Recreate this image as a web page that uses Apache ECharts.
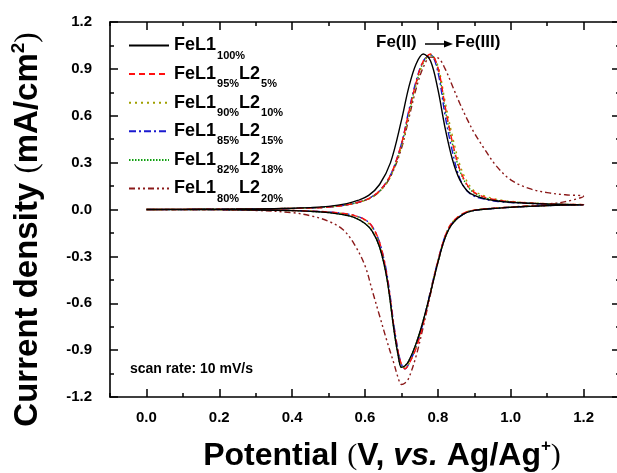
<!DOCTYPE html>
<html>
<head>
<meta charset="utf-8">
<script src="https://cdn.jsdelivr.net/npm/echarts@6/dist/echarts.min.js"></script>
<style>html,body{margin:0;padding:0;background:#fff}#c{width:617px;height:473px}</style>
</head>
<body>
<div id="c"></div>
<script>
// Potential grids (V vs Ag/Ag+)
var forwardE = [0.0, 0.1, 0.2, 0.3, 0.4, 0.45, 0.5, 0.55, 0.58, 0.61, 0.64, 0.67, 0.70, 0.72, 0.74, 0.76, 0.78, 0.80, 0.82, 0.84, 0.86, 0.88, 0.90, 0.93, 0.96, 1.0, 1.05, 1.1, 1.15, 1.2];
var reverseE = [1.15, 1.1, 1.05, 1.0, 0.95, 0.9, 0.87, 0.84, 0.82, 0.80, 0.78, 0.76, 0.74, 0.72, 0.71, 0.70, 0.69, 0.68, 0.66, 0.64, 0.62, 0.60, 0.57, 0.54, 0.5, 0.45, 0.4, 0.3, 0.2, 0.1, 0.0];

// Current density (mA/cm2), forward (anodic) scans
var fwd100 = [0, 0.001, 0.002, 0.004, 0.008, 0.012, 0.02, 0.038, 0.058, 0.09, 0.16, 0.30, 0.57, 0.78, 0.93, 0.995, 0.95, 0.77, 0.52, 0.32, 0.19, 0.12, 0.09, 0.068, 0.056, 0.046, 0.04, 0.035, 0.032, 0.03];
var fwd95 = [0, 0.001, 0.002, 0.004, 0.007, 0.01, 0.016, 0.03, 0.045, 0.07, 0.12, 0.22, 0.42, 0.62, 0.81, 0.95, 0.995, 0.91, 0.66, 0.43, 0.26, 0.16, 0.11, 0.078, 0.062, 0.05, 0.042, 0.036, 0.033, 0.031];
var fwd90 = [0, 0.001, 0.002, 0.004, 0.007, 0.01, 0.016, 0.029, 0.044, 0.068, 0.115, 0.21, 0.40, 0.60, 0.80, 0.94, 0.99, 0.92, 0.69, 0.47, 0.29, 0.18, 0.12, 0.085, 0.066, 0.052, 0.043, 0.037, 0.033, 0.031];
var fwd85 = [0, 0.001, 0.002, 0.004, 0.007, 0.01, 0.016, 0.03, 0.045, 0.07, 0.12, 0.22, 0.42, 0.63, 0.82, 0.95, 0.99, 0.88, 0.60, 0.37, 0.20, 0.12, 0.085, 0.065, 0.053, 0.045, 0.039, 0.034, 0.031, 0.029];
var fwd82 = [0, 0.001, 0.002, 0.004, 0.007, 0.01, 0.016, 0.03, 0.045, 0.069, 0.118, 0.215, 0.41, 0.61, 0.80, 0.94, 0.99, 0.90, 0.64, 0.42, 0.25, 0.155, 0.105, 0.075, 0.06, 0.048, 0.041, 0.036, 0.032, 0.03];
var fwd80 = [0, 0.001, 0.002, 0.004, 0.007, 0.01, 0.016, 0.03, 0.045, 0.068, 0.115, 0.21, 0.39, 0.58, 0.77, 0.91, 0.975, 0.97, 0.90, 0.79, 0.68, 0.58, 0.49, 0.38, 0.28, 0.19, 0.135, 0.108, 0.094, 0.085];

// Current density (mA/cm2), reverse (cathodic) scans
var rev100 = [0.028, 0.025, 0.02, 0.014, 0.006, -0.006, -0.03, -0.09, -0.18, -0.34, -0.53, -0.71, -0.86, -0.97, -1.0, -1.01, -0.92, -0.78, -0.44, -0.24, -0.14, -0.09, -0.05, -0.033, -0.02, -0.012, -0.007, -0.003, -0.001, 0, 0];
var rev95 = [0.029, 0.026, 0.021, 0.015, 0.007, -0.004, -0.025, -0.08, -0.17, -0.33, -0.53, -0.73, -0.89, -0.99, -1.02, -0.99, -0.90, -0.76, -0.42, -0.21, -0.11, -0.065, -0.038, -0.025, -0.016, -0.01, -0.006, -0.003, -0.001, 0, 0];
var rev90 = [0.029, 0.026, 0.021, 0.015, 0.007, -0.004, -0.025, -0.08, -0.17, -0.33, -0.52, -0.72, -0.88, -0.99, -1.01, -0.99, -0.91, -0.77, -0.43, -0.22, -0.12, -0.07, -0.04, -0.026, -0.017, -0.01, -0.006, -0.003, -0.001, 0, 0];
var rev85 = [0.028, 0.025, 0.02, 0.014, 0.006, -0.006, -0.03, -0.085, -0.17, -0.33, -0.52, -0.72, -0.88, -0.99, -1.02, -0.99, -0.89, -0.75, -0.41, -0.21, -0.11, -0.065, -0.038, -0.025, -0.016, -0.01, -0.006, -0.003, -0.001, 0, 0];
var rev82 = [0.028, 0.025, 0.02, 0.014, 0.006, -0.006, -0.03, -0.09, -0.18, -0.34, -0.53, -0.71, -0.86, -0.97, -1.0, -1.01, -0.92, -0.78, -0.44, -0.24, -0.14, -0.09, -0.05, -0.033, -0.02, -0.012, -0.007, -0.003, -0.001, 0, 0];
var rev80 = [0.05, 0.035, 0.025, 0.016, 0.007, -0.004, -0.025, -0.09, -0.18, -0.34, -0.54, -0.75, -0.94, -1.08, -1.11, -1.12, -1.07, -0.99, -0.84, -0.68, -0.52, -0.36, -0.22, -0.13, -0.075, -0.04, -0.02, -0.006, -0.001, 0, 0];

var seriesNames = ['FeL1 100%', 'FeL1 95% L2 5%', 'FeL1 90% L2 10%', 'FeL1 85% L2 15%', 'FeL1 82% L2 18%', 'FeL1 80% L2 20%'];
var legendLabels = ['{m|FeL1}{s|100%}', '{m|FeL1}{s|95%}{m|L2}{s|5%}', '{m|FeL1}{s|90%}{m|L2}{s|10%}', '{m|FeL1}{s|85%}{m|L2}{s|15%}', '{m|FeL1}{s|82%}{m|L2}{s|18%}', '{m|FeL1}{s|80%}{m|L2}{s|20%}'];
var forwardSets = [fwd100, fwd95, fwd90, fwd85, fwd82, fwd80];
var reverseSets = [rev100, rev95, rev90, rev85, rev82, rev80];
var colors = ['#000000', '#ff1010', '#a0a000', '#1a1ad0', '#10a010', '#8b1a1a'];
var dashes = ['solid', [6, 4], [2, 4], [7, 3, 2, 3], [1.5, 1.5], [6, 3, 2, 3, 2, 3]];

var xMajor = [0.0, 0.2, 0.4, 0.6, 0.8, 1.0, 1.2];
var xMinor = [-0.1, 0.1, 0.3, 0.5, 0.7, 0.9, 1.1, 1.3];

var FONT = 'Liberation Sans';

function pairs(e, j) { return e.map(function (v, i) { return [v, j[i]]; }); }

var series = seriesNames.map(function (n, k) {
  return {
    name: n, type: 'line', xAxisIndex: 0, yAxisIndex: 0,
    showSymbol: false, symbol: 'none', smooth: 0.35,
    data: pairs(forwardE, forwardSets[k]).concat(pairs(reverseE, reverseSets[k])),
    lineStyle: { color: colors[k], width: 1.4, type: dashes[k] },
    itemStyle: { color: colors[k] },
    z: 10 - k
  };
});

var axLine = { show: true, onZero: false, lineStyle: { color: '#000', width: 1.6 } };
function xAx(pos, ticks, len, labels, line) {
  return {
    type: 'value', position: pos, min: -0.1, max: 1.3,
    axisLine: line ? axLine : { show: false, onZero: false },
    splitLine: { show: false },
    axisTick: { show: true, inside: true, length: len, customValues: ticks, lineStyle: { color: '#000', width: 1.5 } },
    axisLabel: labels ? { show: true, customValues: xMajor, margin: 13, color: '#000', fontFamily: FONT, fontWeight: 'bold', fontSize: 15, formatter: function (v) { return v.toFixed(1); } } : { show: false }
  };
}
var xAxes = [xAx('bottom', xMajor, 8, true, true), xAx('bottom', xMinor, 4, false, false), xAx('top', xMajor, 8, false, true), xAx('top', xMinor, 4, false, false)];
xAxes[0].name = 'Potential {p|(}V, {i|vs.} Ag/Ag{sup|+}{p|)}';
xAxes[0].nameLocation = 'middle';
xAxes[0].nameGap = 41;
xAxes[0].nameTextStyle = {
  color: '#000', fontFamily: FONT, fontWeight: 'bold', fontSize: 32, padding: [0, 0, 0, 34],
  rich: {
    p: { fontFamily: 'Liberation Serif', fontWeight: 'normal', fontSize: 30, color: '#000' },
    i: { fontFamily: FONT, fontWeight: 'bold', fontStyle: 'italic', fontSize: 32, color: '#000' },
    sup: { fontFamily: FONT, fontWeight: 'bold', fontSize: 17, color: '#000', padding: [0, 0, 20, 0] }
  }
};

function yAx(pos, labels) {
  return {
    type: 'value', position: pos, min: -1.2, max: 1.2, interval: 0.3,
    axisLine: axLine,
    splitLine: { show: false },
    axisTick: { show: true, inside: true, length: 8, lineStyle: { color: '#000', width: 1.5 } },
    minorTick: { show: true, splitNumber: 2, length: 4, lineStyle: { color: '#000', width: 1.5 } },
    minorSplitLine: { show: false },
    axisLabel: labels ? { show: true, margin: 18, color: '#000', fontFamily: FONT, fontWeight: 'bold', fontSize: 15, formatter: function (v) { return v.toFixed(1); } } : { show: false }
  };
}
var yAxes = [yAx('left', true), yAx('right', false)];
yAxes[0].name = 'Current density {p|(}mA/cm{sup|2}{p|)}';
yAxes[0].nameLocation = 'middle';
yAxes[0].nameRotate = 90;
yAxes[0].nameGap = 64;
yAxes[0].nameTextStyle = {
  color: '#000', fontFamily: FONT, fontWeight: 'bold', fontSize: 33, padding: [0, 40, 0, 0],
  rich: {
    p: { fontFamily: 'Liberation Serif', fontWeight: 'normal', fontSize: 31, color: '#000' },
    sup: { fontFamily: FONT, fontWeight: 'bold', fontSize: 19, color: '#000', padding: [0, 0, 18, 0] }
  }
};

var chart = echarts.init(document.getElementById('c'), null, { renderer: 'canvas' });
chart.setOption({
  animation: false,
  backgroundColor: '#fff',
  grid: { left: 110, right: -3, top: 22, bottom: 76, containLabel: false, outerBoundsMode: 'none' },
  xAxis: xAxes,
  yAxis: yAxes,
  legend: {
    orient: 'vertical', left: 128, top: 30, padding: 0, itemGap: -2.4,
    itemWidth: 40, itemHeight: 14,
    itemStyle: { opacity: 0 },
    data: seriesNames,
    formatter: function (name) { return legendLabels[seriesNames.indexOf(name)]; },
    textStyle: {
      color: '#000', fontFamily: FONT, fontWeight: 'bold', fontSize: 18,
      rich: {
        m: { fontFamily: FONT, fontWeight: 'bold', fontSize: 18, color: '#000' },
        s: { fontFamily: FONT, fontWeight: 'bold', fontSize: 11, lineHeight: 12, color: '#000', padding: [20, 0, 0, 1] }
      }
    }
  },
  graphic: [
    { type: 'text', left: 376, top: 34, style: { text: 'Fe(II)', fill: '#000', font: 'bold 17px "Liberation Sans"' } },
    { type: 'line', shape: { x1: 425, y1: 44, x2: 446, y2: 44 }, style: { stroke: '#000', lineWidth: 1.5 } },
    { type: 'polygon', shape: { points: [[444, 40.5], [453, 44], [444, 47.5]] }, style: { fill: '#000' } },
    { type: 'text', left: 455, top: 34, style: { text: 'Fe(III)', fill: '#000', font: 'bold 17px "Liberation Sans"' } },
    { type: 'text', left: 130, top: 362, style: { text: 'scan rate: 10 mV/s', fill: '#000', font: 'bold 14px "Liberation Sans"' } }
  ],
  series: series
});
</script>
</body>
</html>
